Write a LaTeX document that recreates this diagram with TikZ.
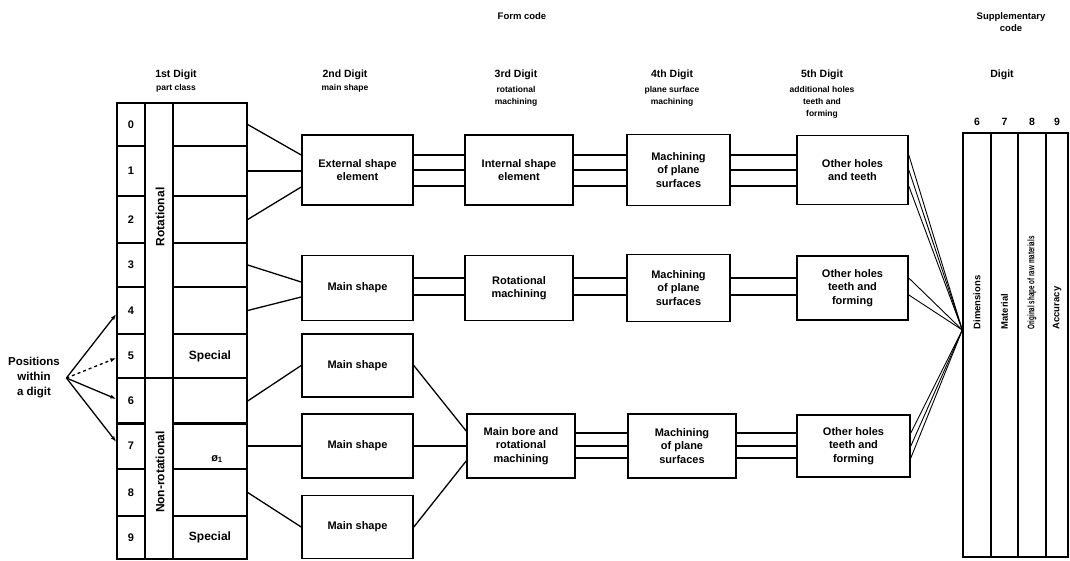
\documentclass[tikz,border=0pt]{standalone}
\usepackage{fontspec}
\setmainfont{Liberation Sans}
\usetikzlibrary{arrows.meta,calc}
\begin{document}
\begin{tikzpicture}[x=1pt,y=-1pt,
  font=\bfseries\fontsize{11}{13.5}\selectfont,
  box/.style={draw,line width=1.6pt,minimum width=111pt,minimum height=70pt,inner sep=0pt,align=center},
  cell/.style={draw,line width=1.4pt,inner sep=0pt},
  link/.style={line width=1.3pt},
  fanline/.style={line width=0.9pt},
  hd/.style={font=\bfseries\fontsize{10.5}{12}\selectfont},
  sub/.style={font=\bfseries\fontsize{8.5}{12}\selectfont,align=center},
  top/.style={font=\bfseries\fontsize{9.5}{12.5}\selectfont,align=center},
  side/.style={rotate=90,font=\bfseries\fontsize{12}{14}\selectfont},
  supp/.style={rotate=90,anchor=west,font=\bfseries\fontsize{9.5}{11}\selectfont},
  tip/.style={-{Latex[length=6pt,width=4pt]}},
]
\useasboundingbox (0,0) rectangle (1070,561);

% ---- headings ----
\node[top] at (522,16) {Form code};
\node[hd] at (176,75) {1st Digit};
\node[sub] at (176,88) {part class};
\node[hd] at (345,75) {2nd Digit};
\node[sub] at (345,88) {main shape};
\node[hd] at (516,75) {3rd Digit};
\node[sub] at (516,96) {rotational\\machining};
\node[hd] at (672,75) {4th Digit};
\node[sub] at (672,96) {plane surface\\machining};
\node[hd] at (822,75) {5th Digit};
\node[sub] at (822,102) {additional holes\\teeth and\\forming};
\node[top] at (1011,22) {Supplementary\\code};
\node[hd] at (1002,75) {Digit};

% ---- first digit: part class column ----
\foreach \i/\c/\h in {0/124.5/43, 1/171/50, 2/219.5/47, 3/265/44, 4/310.5/47,
                      5/356/44, 6/401/46, 7/446/46, 8/492.5/47, 9/537.5/43} {
  \node[cell,minimum width=28pt,minimum height=\h pt] (d\i) at (131,\c) {\i};
  \node[cell,minimum width=74pt,minimum height=\h pt] (c\i) at (210,\c) {};
}
\node[cell,minimum width=28pt,minimum height=275pt] (rot) at (159,240.5) {};
\node[cell,minimum width=28pt,minimum height=181pt] (nonrot) at (159,468.5) {};
\node[side] at (160,217) {Rotational};
\node[side] at (160,472) {Non-rotational};
\node[font=\bfseries\fontsize{12}{14}\selectfont] at (c5) {Special};
\node[font=\bfseries\fontsize{12}{14}\selectfont] at (c9) {Special};
\node at (217,459) {ø\textsubscript{1}};

% ---- positions within a digit ----
\node[align=center,font=\bfseries\fontsize{11.5}{15}\selectfont] (pos) at (34,378) {Positions\\within\\a digit};
\coordinate (fan) at ([xshift=3pt]pos.east);
\draw[link,tip] (fan) -- ([yshift=-3.5pt]d4.west);
\draw[link,tip,dashed] (fan) -- ([yshift=-2pt]d5.west);
\draw[link,tip] (fan) -- ([yshift=2pt]d6.west);
\draw[link,tip] (fan) -- ([yshift=4pt]d7.west);

% ---- second digit ----
\node[box] (ext) at (357.5,170) {External shape\\element};
\node[box,minimum height=65pt] (ms1) at (357.5,288) {Main shape};
\node[box,minimum height=63pt] (ms2) at (357.5,365.5) {Main shape};
\node[box,minimum height=64pt] (ms3) at (357.5,446) {Main shape};
\node[box,minimum height=63pt] (ms4) at (357.5,527) {Main shape};

% ---- third digit ----
\node[box,minimum width=108pt] (int) at (519,170) {Internal shape\\element};
\node[box,minimum width=108pt,minimum height=65pt] (rotm) at (519,288) {Rotational\\machining};
\node[box,minimum width=108pt,minimum height=64pt] (bore) at (521,446) {Main bore and\\rotational\\machining};

% ---- fourth digit ----
\node[box,minimum width=103pt,minimum height=71pt] (mp1) at (678.5,170) {Machining\\of plane\\surfaces};
\node[box,minimum width=103pt,minimum height=67pt] (mp2) at (678.5,288) {Machining\\of plane\\surfaces};
\node[box,minimum width=108pt,minimum height=64pt] (mp3) at (682,446) {Machining\\of plane\\surfaces};

% ---- fifth digit ----
\node[box,minimum height=69pt] (oh1) at (852.5,170) {Other holes\\and teeth};
\node[box,minimum height=64pt] (oh2) at (852.5,288) {Other holes\\teeth and\\forming};
\node[box,minimum width=113pt,minimum height=62pt] (oh3) at (853.5,446) {Other holes\\teeth and\\forming};

% ---- supplementary code ----
\foreach \n/\x/\w in {6/977/28, 7/1004.5/27, 8/1032/28, 9/1057/22} {
  \node[cell,minimum width=\w pt,minimum height=424pt] (s\n) at (\x,345) {};
  \node[hd] at (\x,122) {\n};
}
\node[supp] at ([yshift=12pt]s6.center) {Dimensions};
\node[supp] at ([yshift=12pt]s7.center) {Material};
\node[supp] at ([yshift=12pt]s8.center) {\scalebox{0.66}[1]{Original shape of raw materials}};
\node[supp] at ([yshift=12pt]s9.center) {Accuracy};
\coordinate (P) at ([yshift=15pt]s6.west);

% ---- part class to main shape ----
\draw[link] (c0.east) -- ([yshift=15pt]ext.west);
\draw[link] (c1.east) -- (c1.east -| ext.west);
\draw[link] (c2.east) -- ([yshift=-17pt]ext.west);
\draw[link] (c3.east) -- ([yshift=6pt]ms1.west);
\draw[link] (c4.east) -- ([yshift=-9pt]ms1.west);
\draw[link] (c6.east) -- (ms2.west);
\draw[link] (c7.east) -- (c7.east -| ms3.west);
\draw[link] (c8.east) -- (ms4.west);

% ---- chains along the rows ----
\foreach \s in {15,0,-16} {
  \draw[link] ([yshift=\s pt]ext.east) -- ([yshift=\s pt]int.west);
  \draw[link] ([yshift=\s pt]int.east) -- ([yshift=\s pt]mp1.west);
  \draw[link] ([yshift=\s pt]mp1.east) -- ([yshift=\s pt]oh1.west);
  \draw[fanline] ([yshift=\s pt]oh1.east) -- (P);
}
\foreach \s in {10,-7} {
  \draw[link] ([yshift=\s pt]ms1.east) -- ([yshift=\s pt]rotm.west);
  \draw[link] ([yshift=\s pt]rotm.east) -- ([yshift=\s pt]mp2.west);
  \draw[link] ([yshift=\s pt]mp2.east) -- ([yshift=\s pt]oh2.west);
  \draw[fanline] ([yshift=\s pt]oh2.east) -- (P);
}
\draw[link] (ms2.east) -- ([yshift=15pt]bore.west);
\draw[link] (ms3.east) -- (bore.west);
\draw[link] (ms4.east) -- ([yshift=-15pt]bore.west);
\foreach \s in {13,0,-12} {
  \draw[link] ([yshift=\s pt]bore.east) -- ([yshift=\s pt]mp3.west);
  \draw[link] ([yshift=\s pt]mp3.east) -- ([yshift=\s pt]oh3.west);
  \draw[fanline] ([yshift=\s pt]oh3.east) -- (P);
}
\end{tikzpicture}
\end{document}
